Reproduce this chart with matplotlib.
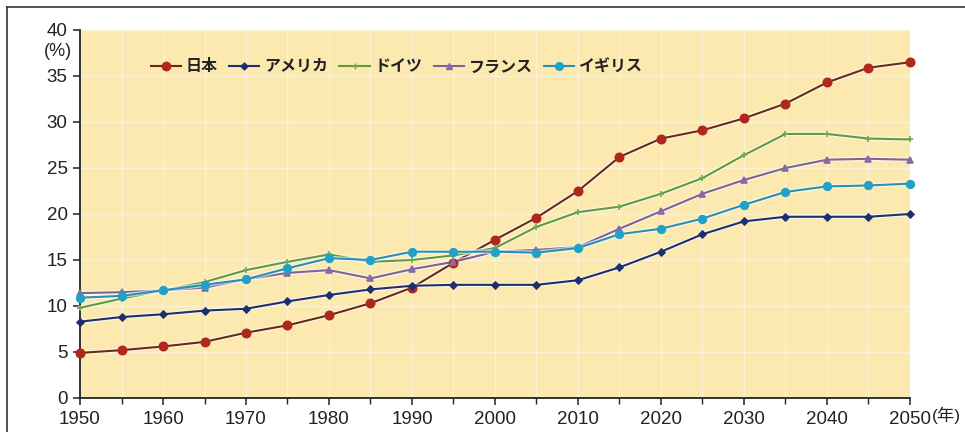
import matplotlib
matplotlib.use("Agg")
import matplotlib.pyplot as plt
import matplotlib.patheffects as pe
from matplotlib.lines import Line2D
from matplotlib.ticker import MultipleLocator

plt.rcParams['font.family'] = ['Liberation Sans', 'Noto Sans CJK JP', 'DejaVu Sans']

years = list(range(1950, 2051, 5))

japan = [4.9, 5.2, 5.6, 6.1, 7.1, 7.9, 9.0, 10.3, 12.0, 14.7, 17.2, 19.6, 22.5,
         26.2, 28.2, 29.1, 30.4, 32.0, 34.3, 35.9, 36.5]
usa = [8.3, 8.8, 9.1, 9.5, 9.7, 10.5, 11.2, 11.8, 12.2, 12.3, 12.3, 12.3, 12.8,
       14.2, 15.9, 17.8, 19.2, 19.7, 19.7, 19.7, 20.0]
germany = [9.8, 10.8, 11.7, 12.6, 13.9, 14.8, 15.6, 14.8, 15.0, 15.5, 16.3, 18.6, 20.2,
           20.8, 22.2, 23.9, 26.4, 28.7, 28.7, 28.2, 28.1]
france = [11.4, 11.5, 11.7, 12.0, 12.9, 13.6, 13.9, 13.0, 14.0, 14.8, 15.9, 16.1, 16.4,
          18.4, 20.3, 22.2, 23.7, 25.0, 25.9, 26.0, 25.9]
uk = [10.9, 11.1, 11.7, 12.3, 12.9, 14.1, 15.2, 15.0, 15.9, 15.9, 15.9, 15.8, 16.3,
      17.8, 18.4, 19.5, 21.0, 22.4, 23.0, 23.1, 23.3]

series_names = ['日本', 'アメリカ', 'ドイツ', 'フランス', 'イギリス']
series_values = [japan, usa, germany, france, uk]
colors = ['#b0281c', '#1d2f6e', '#6cab48', '#8a6aa6', '#20a2c8']
line_colors = ['#6a2a1a', '#1d2f6e', '#5f9a40', '#7f6396', '#2a8fb0']
markers = ['o', 'D', '+', '^', 'o']
msizes = [6, 3.5, 4.5, 4.5, 5.5]

x_ticks = list(range(1950, 2051, 10))
x_labels = [str(y) for y in x_ticks]
y_ticks = list(range(0, 41, 5))

fig = plt.figure(figsize=(9.65, 4.32), dpi=100)
ax = fig.add_axes([80 / 965, 1 - 398 / 432, 830 / 965, 368 / 432])
ax.set_facecolor('#fbe9b0')

halo = [pe.Stroke(linewidth=3.2, foreground='white', alpha=0.6), pe.Normal()]
handles = []
for name, vals, c, lc, m, ms in zip(series_names, series_values, colors, line_colors, markers, msizes):
    ax.plot(years, vals, color=lc, lw=1.5, zorder=3, clip_on=False, path_effects=halo)
    ax.plot(years, vals, lw=0, marker=m, markersize=ms,
            markerfacecolor=c, markeredgecolor=c, markeredgewidth=1.2,
            zorder=4, clip_on=False)
    handles.append(Line2D([], [], color=lc, lw=1.5, marker=m, markersize=ms,
                          markerfacecolor=c, markeredgecolor=c))

ax.set_xlim(1950, 2050)
ax.set_ylim(0, 40)
ax.set_xticks(x_ticks)
ax.set_xticklabels(x_labels)
ax.xaxis.set_minor_locator(MultipleLocator(5))
ax.set_yticks(y_ticks)
ax.yaxis.set_minor_locator(MultipleLocator(5))
ax.grid(True, which='both', color='white', lw=0.9, alpha=0.45)
ax.set_axisbelow(True)

for s in ['top', 'right']:
    ax.spines[s].set_visible(False)
for s in ['left', 'bottom']:
    ax.spines[s].set_color('#222222')
    ax.spines[s].set_linewidth(1.3)

ax.tick_params(axis='both', which='major', direction='out', length=5, width=1.1,
               labelsize=13.5, colors='#222222', pad=4)
ax.tick_params(axis='x', which='minor', direction='out', length=4, width=1.0, colors='#222222')
ax.tick_params(axis='y', which='minor', length=0)

# unit labels
ax.text(-0.026, 0.965, '(%)', transform=ax.transAxes, ha='center', va='top',
        fontsize=13, color='#222222')
ax.annotate('(年)', xy=(1.0, 0), xycoords='axes fraction', xytext=(15.5, -6),
            textcoords='offset points', ha='left', va='top', fontsize=12.5,
            color='#222222', annotation_clip=False)

leg = ax.legend(handles, series_names, ncol=5, loc='upper left',
                bbox_to_anchor=(0.068, 0.96), frameon=False,
                prop={'size': 11.5, 'weight': 'bold'},
                handlelength=1.9, handletextpad=0.3, columnspacing=0.7)
for t in leg.get_texts():
    t.set_color('#222222')

# outer frame of the figure
fig.add_artist(Line2D([7 / 965, 1.0], [1 - 7 / 432, 1 - 7 / 432], transform=fig.transFigure,
                      color='#333333', lw=1.2))
fig.add_artist(Line2D([7 / 965, 7 / 965], [0.0, 1 - 7 / 432], transform=fig.transFigure,
                      color='#333333', lw=1.2))

fig.savefig('out.png', dpi=100, facecolor='white')
